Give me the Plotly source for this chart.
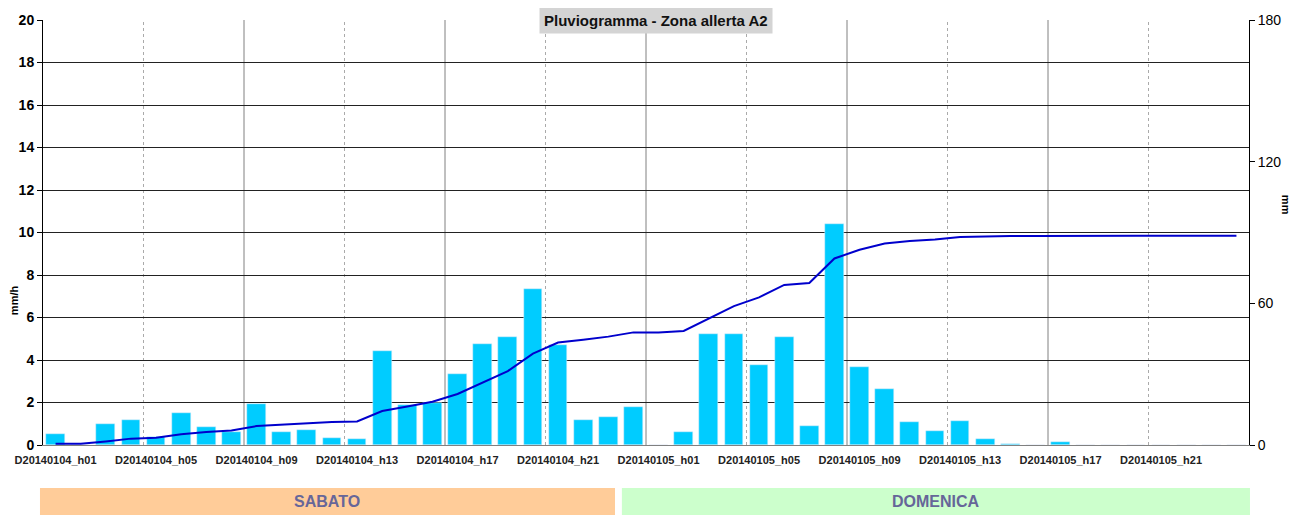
import plotly.graph_objects as go

# hourly rain (mm/h), two days, h01..h24
sabato = [0.5, 0.0, 1.0, 1.2, 0.4, 1.5, 0.85, 0.62, 1.95, 0.6, 0.7, 0.34,
          0.3, 4.41, 1.9, 2.0, 3.35, 4.73, 5.06, 7.32, 4.69, 1.17, 1.33, 1.8]
domenica = [0.0, 0.62, 5.24, 5.24, 3.76, 5.1, 0.91, 10.42, 3.65, 2.63, 1.09, 0.67,
            1.14, 0.3, 0.05, 0.0, 0.15, 0.0, 0.0, 0.0, 0.0, 0.0, 0.0, 0.0]

# cumulated rain (mm)
cumulata = [0.5, 0.5, 1.5, 2.7, 3.1, 4.6, 5.5, 6.1, 8.0, 8.6, 9.3, 9.7,
            10.0, 14.4, 16.3, 18.3, 21.6, 26.4, 31.3, 38.7, 43.4, 44.6, 45.9, 47.7,
            47.7, 48.3, 53.6, 58.8, 62.5, 67.8, 68.6, 79.0, 82.7, 85.3, 86.4, 87.0,
            88.1, 88.4, 88.5, 88.5, 88.6, 88.6, 88.6, 88.6, 88.6, 88.6, 88.6, 88.6]

labels = ["D20140104_h%02d" % h for h in range(1, 25)] + ["D20140105_h%02d" % h for h in range(1, 25)]
pioggia = sabato + domenica
x = list(range(1, len(pioggia) + 1))

giorni = ["SABATO", "DOMENICA"]

fig = go.Figure()
fig.add_trace(go.Bar(x=x, y=pioggia, marker_color="#00CCFF", width=0.75, name="mm/h"))
fig.add_trace(go.Scatter(x=x, y=cumulata, yaxis="y2", mode="lines",
                         line=dict(color="#0000CC", width=2), name="mm"))

# vertical grid every 4 hours, alternating dotted / solid
for i in range(1, 12):
    b = 0.5 + 4 * i
    dotted = i % 2 == 1
    fig.add_shape(type="line", xref="x", yref="paper", x0=b, x1=b, y0=0, y1=1,
                  line=dict(color="#aaaaaa" if dotted else "#808080", width=1,
                            dash="dot" if dotted else "solid"), layer="below")

# day boxes under the chart
box_x = [(-0.0025, 0.4743), (0.480, 1.0008)]
box_col = ["#FFCC99", "#CCFFCC"]
for g, (a, b), c in zip(giorni, box_x, box_col):
    fig.add_shape(type="rect", xref="paper", yref="paper", x0=a, x1=b, y0=-0.1647, y1=-0.1012,
                  fillcolor=c, line_width=0)
    fig.add_annotation(xref="paper", yref="paper", x=(a + b) / 2, y=-0.1325,
                       xanchor="center", yanchor="middle", text="<b>%s</b>" % g,
                       showarrow=False, font=dict(size=16, color="#666699", family="Liberation Sans"))

fig.add_annotation(xref="paper", yref="paper", x=0.508, y=1.0, yanchor="middle",
                   text="<b>Pluviogramma - Zona allerta A2</b>", showarrow=False,
                   bgcolor="#D4D4D4", borderpad=4,
                   font=dict(size=15, color="#111111", family="Liberation Sans"))
fig.add_annotation(xref="paper", yref="paper", x=-0.024, y=0.341, xanchor="center",
                   yanchor="middle", text="<b>mm/h</b>",
                   textangle=-90, showarrow=False, font=dict(size=11, color="#000000"))
fig.add_annotation(xref="paper", yref="paper", x=1.0307, y=0.565, xanchor="center",
                   yanchor="middle", text="<b>mm</b>",
                   textangle=90, showarrow=False, font=dict(size=11, color="#000000"))

fig.update_layout(
    width=1292, height=508,
    margin=dict(l=35, r=51, t=12, b=71),
    paper_bgcolor="white", plot_bgcolor="white",
    showlegend=False, bargap=0,
    font=dict(family="Liberation Sans", color="#000000"),
    xaxis=dict(range=[0.5, 48.5], tickvals=x[::4],
               ticktext=["<b>%s</b>" % t for t in labels[::4]],
               tickfont=dict(size=11, color="#222222"), showgrid=False, showline=True,
               linecolor="#808080", linewidth=1, ticks="outside", ticklen=5,
               tickcolor="rgba(0,0,0,0)", zeroline=False, tickangle=0, automargin=False),
    yaxis=dict(range=[0, 20], dtick=2, tickfont=dict(size=14),
               tickprefix="<b>", ticksuffix="</b>",
               showgrid=True, gridcolor="#222222", gridwidth=1,
               showline=True, linecolor="#000000", linewidth=1,
               ticks="outside", ticklen=5, tickcolor="#000000", zeroline=False,
               automargin=False),
    yaxis2=dict(range=[0, 180], tickvals=[0, 60, 120, 180], overlaying="y", side="right",
                tickfont=dict(size=14), tickprefix="<b>", ticksuffix="</b>",
                showgrid=False, showline=True, linecolor="#000000", linewidth=1,
                ticks="outside", ticklen=5, tickcolor="#000000", zeroline=False,
                automargin=False),
)

fig.write_html("out.html")
